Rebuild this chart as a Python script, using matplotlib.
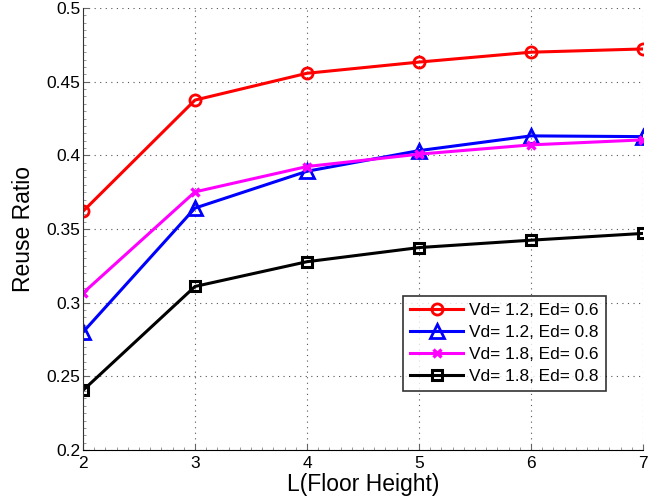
import matplotlib
matplotlib.use("Agg")
import matplotlib.pyplot as plt
from matplotlib.ticker import MultipleLocator, FuncFormatter

floor_height = [2, 3, 4, 5, 6, 7]
vd12_ed06 = [0.362, 0.4375, 0.4557, 0.4633, 0.4700, 0.4722]
vd12_ed08 = [0.280, 0.3642, 0.3892, 0.4032, 0.4132, 0.4127]
vd18_ed06 = [0.3065, 0.3752, 0.3924, 0.4008, 0.4071, 0.4105]
vd18_ed08 = [0.2405, 0.3110, 0.3278, 0.3374, 0.3424, 0.3470]
labels = ["Vd= 1.2, Ed= 0.6", "Vd= 1.2, Ed= 0.8", "Vd= 1.8, Ed= 0.6", "Vd= 1.8, Ed= 0.8"]
yticks = [0.2, 0.25, 0.3, 0.35, 0.4, 0.45, 0.5]

plt.rcParams['font.family'] = ['Liberation Sans', 'DejaVu Sans']

fig = plt.figure(figsize=(6.67, 5.04), dpi=100)
ax = fig.add_axes([83/667, 54/504, 560/667, 442/504])

ax.plot(floor_height, vd12_ed06, color='#ff0000', lw=2.2, marker='o', ms=8,
        mfc='none', mec='#ff0000', mew=2, label=labels[0])
ax.plot(floor_height, vd12_ed08, color='#0000ff', lw=2.2, marker='^', ms=10,
        mfc='none', mec='#0000ff', mew=2, label=labels[1])
ax.plot(floor_height, vd18_ed06, color='#ff00ff', lw=2.2, marker='x', ms=5.5,
        mec='#ff00ff', mew=2.4, label=labels[2])
ax.plot(floor_height, vd18_ed08, color='#000000', lw=2.2, marker='s', ms=7,
        mfc='none', mec='#000000', mew=2.2, label=labels[3])

ax.set_xlim(2, 7)
ax.set_ylim(0.2, 0.5)
ax.set_xticks(floor_height)
ax.set_yticks(yticks)
ax.yaxis.set_major_formatter(FuncFormatter(lambda v, p: f"{v:g}"))
ax.yaxis.set_minor_locator(MultipleLocator(0.005))
ax.xaxis.set_minor_locator(MultipleLocator(0.1))

ax.grid(True, which='major', linestyle=(0, (1, 4)), color='#555555', lw=0.8)
ax.tick_params(which='major', direction='in', length=4, labelsize=12.5, color='#666666')
ax.tick_params(which='minor', direction='in', length=2, color='#888888', width=0.6)
ax.tick_params(axis='y', pad=2)
ax.tick_params(axis='x', pad=4)

for s in ['top', 'right']:
    ax.spines[s].set_visible(False)
ax.spines['left'].set_color('#333333')
ax.spines['bottom'].set_color('#000000')

ax.set_xlabel("L(Floor Height)", fontsize=16.5, labelpad=2)
ax.set_ylabel("Reuse Ratio", fontsize=16.5, labelpad=8)

leg = ax.legend(loc='upper left', bbox_to_anchor=((403-83)/560, (450-296)/442),
                fontsize=12.4, frameon=True, fancybox=False, edgecolor='black',
                handlelength=3.1, handletextpad=0.35, borderpad=0.4, labelspacing=0.4,
                borderaxespad=0)
leg.get_frame().set_linewidth(1.2)

fig.savefig("out.png", dpi=100)
